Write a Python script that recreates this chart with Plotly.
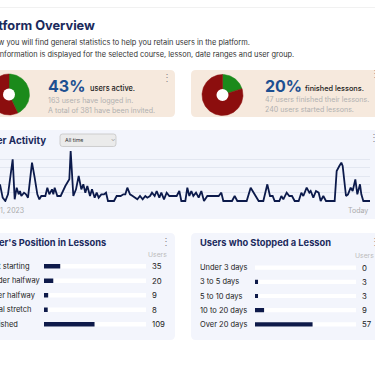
import math
import plotly.graph_objects as go

W, H = 375, 366
FONT = "Inter"
NAVY = "#1b2a5c"
BAR = "#0e1a4a"

# ---------------- data ----------------
active_logged = 163
active_invited = 381
finished_count = 47
started_count = 240
active_pct = round(100 * active_logged / active_invited)
finished_pct = round(100 * finished_count / started_count)

activity_days = [0, 4, 8, 12, 19, 22, 25, 28, 30, 32, 36, 39, 42, 48, 52, 56, 59, 62, 68, 71, 74, 78, 80,
                 82, 86, 91, 98, 104, 106, 110, 114, 118, 122, 125, 128, 131, 135, 138, 142, 145, 148,
                 152, 156, 159, 162, 171, 175, 181, 185, 188, 191, 195, 199, 202, 206, 210, 214, 218,
                 221, 225, 228, 232, 235, 239, 242, 246, 250, 254, 260, 265, 269, 272, 278, 281, 284,
                 287, 290, 294, 298, 302, 306, 311, 318, 328, 332, 335, 348, 352, 356, 370, 376, 382,
                 388, 395, 401, 405, 409, 412, 419, 422, 425, 430, 434, 438, 442, 448, 452, 455, 460,
                 464, 466, 470, 474, 478, 481, 485, 489, 502, 505, 509, 512, 514, 519, 522, 526, 529,
                 533, 536, 540, 542, 545, 555]
activity_users = [10, 2, 0, 4, 25, 1, 8, 4, 6, 3, 5, 4, 2, 23, 14, 4, 1, 3, 3, 8, 4, 7, 4,
                  8, 3, 3, 9, 13, 30, 3, 7, 15, 7, 10, 5, 9, 3, 7, 2, 5, 2,
                  4, 4, 5, 0, 0, 3, 3, 4, 4, 8, 4, 3, 2, 1, 3, 1, 3,
                  2, 3, 5, 3, 6, 2, 5, 1, 5, 3, 3, 3, 6, 0, 0, 8, 3,
                  6, 3, 5, 2, 6, 0, 3, 3, 3, 5, 0, 0, 3, 0, 0, 8, 4,
                  0, 0, 10, 3, 3, 0, 0, 3, 1, 5, 3, 3, 0, 0, 5, 3, 8,
                  5, 6, 2, 6, 5, 0, 3, 0, 0, 18, 21, 23, 21, 3, 4, 8, 6,
                  13, 4, 10, 4, 0, 0]

position_labels = ["Not starting", "Under halfway", "Over halfway", "Final stretch", "Finished"]
position_users = [35, 20, 9, 8, 109]
stopped_labels = ["Under 3 days", "3 to 5 days", "5 to 10 days", "10 to 20 days", "Over 20 days"]
stopped_users = [0, 3, 3, 9, 57]


# ---------------- helpers ----------------
def PX(x):
    return x / W


def PY(y):
    return 1 - y / H


def rrect(x0, y0, x1, y1, r):
    pts = [
        ("M", [(x0 + r, y0)]), ("L", [(x1 - r, y0)]), ("Q", [(x1, y0), (x1, y0 + r)]),
        ("L", [(x1, y1 - r)]), ("Q", [(x1, y1), (x1 - r, y1)]), ("L", [(x0 + r, y1)]),
        ("Q", [(x0, y1), (x0, y1 - r)]), ("L", [(x0, y0 + r)]), ("Q", [(x0, y0), (x0 + r, y0)]),
    ]
    s = ""
    for cmd, ps in pts:
        s += cmd + " " + " ".join(f"{PX(a):.5f},{PY(b):.5f}" for a, b in ps) + " "
    return s + "Z"


def card(x0, y0, x1, y1, color, r=5):
    return dict(type="path", path=rrect(x0, y0, x1, y1, r), xref="paper", yref="paper",
                fillcolor=color, line=dict(width=0), layer="below")


def sector(cx, cy, R, a0, a1):
    n = max(int(abs(a1 - a0) / 2), 2)
    xs, ys = [cx], [cy]
    for i in range(n + 1):
        a = math.radians(a0 + (a1 - a0) * i / n)
        xs.append(cx + R * math.sin(a))
        ys.append(cy - R * math.cos(a))
    xs.append(cx)
    ys.append(cy)
    return xs, ys


def text(x, y, s, size, color, anchor="left", weight=400, yref="paper", xref="paper"):
    return dict(x=x, y=y, xref=xref, yref=yref, text=s, showarrow=False, xanchor=anchor,
                yanchor="middle", font=dict(family=FONT, size=size, color=color, weight=weight))


fig = go.Figure()
shapes = []
ann = []

BEIGE = "#f6e9dd"
PALE = "#f3f5fc"

# cards
shapes.append(dict(type="line", xref="paper", yref="paper", x0=0, x1=1, y0=PY(7.5), y1=PY(7.5),
                   line=dict(color="#f1f1f1", width=1), layer="below"))
shapes.append(card(-10, 70, 175, 117, BEIGE))
shapes.append(card(191, 70, 390, 117, BEIGE))
shapes.append(card(-10, 130, 390, 219, PALE))
shapes.append(card(-10, 233, 175, 340, PALE))
shapes.append(card(191, 233, 390, 340, PALE))

# header
ann.append(text(PX(97), PY(25.5), "Platform Overview", 12.8, NAVY, anchor="right", weight=700))
ann.append(text(PX(252), PY(42.7), "Below you will find general statistics to help you retain users in the platform.",
                7.45, "#333333", anchor="right"))
ann.append(text(PX(296), PY(54.3), "This information is displayed for the selected course, lesson, date ranges and user group.",
                7.42, "#333333", anchor="right"))

# donuts (x4/y4 is a pixel-unit overlay)
GREEN = "#1b8a1b"
RED = "#8c0e0e"
donuts = [(9, 94.5, active_pct), (222.5, 95, finished_pct)]
R_OUT, R_IN = 20.5, 6
for cx, cy, pct in donuts:
    for a0, a1, col in [(0, pct * 3.6, GREEN), (pct * 3.6, 360, RED)]:
        xs, ys = sector(cx, cy, R_OUT, a0, a1)
        fig.add_trace(go.Scatter(x=xs, y=ys, mode="lines", fill="toself", fillcolor=col,
                                 line=dict(width=0.5, color=col), hoverinfo="skip", showlegend=False,
                                 xaxis="x4", yaxis="y4"))
    shapes.append(dict(type="circle", xref="paper", yref="paper", x0=PX(cx - R_IN), x1=PX(cx + R_IN),
                       y0=PY(cy + R_IN), y1=PY(cy - R_IN), fillcolor="white", line=dict(width=0),
                       layer="above"))

# card 1 texts
ann.append(text(PX(45.5), PY(86), f"{active_pct}%", 16, "#1d4f91", weight=700))
ann.append(text(PX(88), PY(88.5), "users active.", 7.4, "#1a1a1a", weight=500))
ann.append(text(PX(46), PY(100), f"{active_logged} users have logged in.", 7.1, "#b0b0b0"))
ann.append(text(PX(46), PY(110), f"A total of {active_invited} have been invited.", 7.1, "#b0b0b0"))
ann.append(text(PX(166.5), PY(77), "⋮", 10, "#8a8a8a", anchor="center"))

# card 2 texts
ann.append(text(PX(262.5), PY(86), f"{finished_pct}%", 16, "#1d4f91", weight=700))
ann.append(text(PX(302.5), PY(88.5), "finished lessons.", 7.3, "#1a1a1a", weight=500))
ann.append(text(PX(262.5), PY(99.5), f"{finished_count} users finished their lessons.", 7.1, "#b0b0b0"))
ann.append(text(PX(262.5), PY(109.5), f"{started_count} users started lessons.", 7.1, "#b0b0b0"))
ann.append(text(PX(374.5), PY(73), "⋮", 10, "#8a8a8a", anchor="center"))

# activity card
ann.append(text(PX(48), PY(140), "User Activity", 9.8, NAVY, anchor="right", weight=700))
shapes.append(dict(type="path", path=rrect(60, 134, 116, 146.5, 2.5), xref="paper", yref="paper",
                   fillcolor="#ebebeb", line=dict(color="#c4c4c4", width=0.8), layer="above"))
ann.append(text(PX(63), PY(140.3), "All time", 5.3, "#333333"))
ann.append(text(PX(113), PY(139.5), "⌄", 5.5, "#888888", anchor="center"))
ann.append(text(PX(373.5), PY(137), "⋮", 10, "#8a8a8a", anchor="center"))
ann.append(text(PX(26), PY(210), "Jan 1, 2023", 7, "#aaaaaa", anchor="right"))
ann.append(text(PX(370), PY(210), "Today", 7, "#aaaaaa", anchor="right"))

fig.add_trace(go.Scatter(x=activity_days, y=activity_users, mode="lines",
                         line=dict(color="#0c1a4b", width=1.8), hoverinfo="skip", showlegend=False,
                         xaxis="x", yaxis="y"))

# bar cards
TRACK = "white"
fig.add_trace(go.Bar(x=[220] * len(position_labels), y=position_labels, orientation="h",
                     marker=dict(color=TRACK, line=dict(width=0)), width=0.3, hoverinfo="skip",
                     showlegend=False, xaxis="x2", yaxis="y2"))
fig.add_trace(go.Bar(x=position_users, y=position_labels, orientation="h",
                     marker=dict(color=BAR, line=dict(width=0)), width=0.3, hoverinfo="skip",
                     showlegend=False, xaxis="x2", yaxis="y2"))
fig.add_trace(go.Bar(x=[100] * len(stopped_labels), y=stopped_labels, orientation="h",
                     marker=dict(color=TRACK, line=dict(width=0)), width=0.3, hoverinfo="skip",
                     showlegend=False, xaxis="x3", yaxis="y3"))
fig.add_trace(go.Bar(x=stopped_users, y=stopped_labels, orientation="h",
                     marker=dict(color=BAR, line=dict(width=0)), width=0.3, hoverinfo="skip",
                     showlegend=False, xaxis="x3", yaxis="y3"))

ann.append(text(PX(108), PY(242.3), "User's Position in Lessons", 9.3, NAVY, anchor="right", weight=700))
ann.append(text(PX(166), PY(240.5), "⋮", 10, "#8a8a8a", anchor="center"))
ann.append(text(PX(169), PY(254.3), "Users", 6.8, "#bbbbbb", anchor="right"))
for lab, v in zip(position_labels, position_users):
    ann.append(text(PX(-14.5), lab, lab, 7.5, "#222222", yref="y2"))
    ann.append(text(PX(150), lab, str(v), 7.8, "#222222", yref="y2"))

ann.append(text(PX(198), PY(242.3), "Users who Stopped a Lesson", 9.3, NAVY, weight=700))
ann.append(text(PX(374.5), PY(240.5), "⋮", 10, "#8a8a8a", anchor="center"))
ann.append(text(PX(376), PY(255.7), "Users", 6.8, "#bbbbbb", anchor="right"))
for lab, v in zip(stopped_labels, stopped_users):
    ann.append(text(PX(197.7), lab, lab, 7.5, "#222222", yref="y3"))
    ann.append(text(PX(360), lab, str(v), 7.8, "#222222", yref="y3"))

hidden = dict(visible=False, fixedrange=True)
fig.update_layout(
    width=W, height=H, margin=dict(l=0, r=0, t=0, b=0),
    paper_bgcolor="white", plot_bgcolor="rgba(0,0,0,0)",
    barmode="overlay", showlegend=False,
    font=dict(family=FONT),
    xaxis=dict(domain=[0, 370 / W], range=[0, 555], showgrid=False, zeroline=False,
               showticklabels=False, showline=False, ticks=""),
    yaxis=dict(domain=[PY(202), PY(150)], range=[-0.6, 30.6], tickvals=[0, 5, 10, 15, 20, 25, 30],
               showticklabels=False, gridcolor="#e3e7f1", gridwidth=1, zeroline=False, showline=False,
               ticks=""),
    xaxis2=dict(domain=[44 / W, 146 / W], range=[0, 220], **hidden),
    yaxis2=dict(domain=[PY(331.5), PY(259)], range=[4.5, -0.5], type="category",
                categoryorder="array", categoryarray=position_labels, **hidden),
    xaxis3=dict(domain=[255 / W, 356 / W], range=[0, 100], **hidden),
    yaxis3=dict(domain=[PY(331.4), PY(260.6)], range=[4.5, -0.5], type="category",
                categoryorder="array", categoryarray=stopped_labels, **hidden),
    xaxis4=dict(domain=[0, 1], range=[0, W], **hidden),
    yaxis4=dict(domain=[0, 1], range=[H, 0], **hidden),
    shapes=shapes, annotations=ann,
)

fig.write_html("out.html", config={"displayModeBar": False},
               post_script="document.body.style.margin='0';document.body.style.overflow='hidden';")
